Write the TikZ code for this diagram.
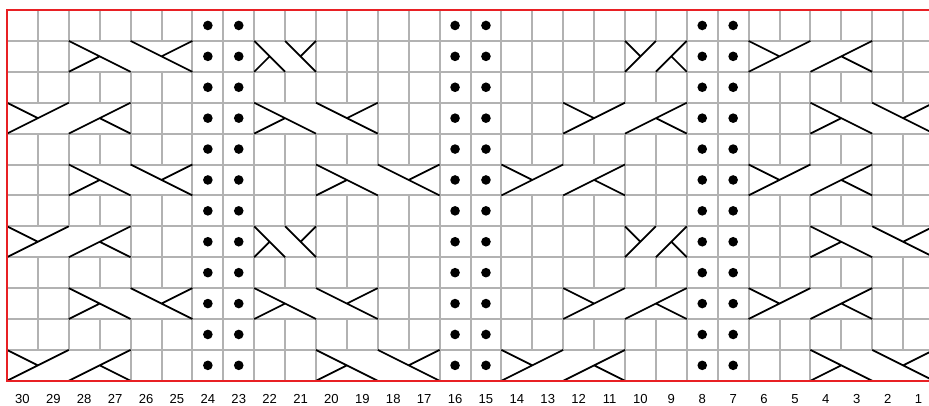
\documentclass[tikz,border=0pt]{standalone}
\usepackage{fontspec}
\setmainfont{Liberation Sans}
\usepackage{xcolor}
\usepackage{tikz}
\usetikzlibrary{positioning}
\definecolor{grisGrille}{RGB}{178,178,178}
\definecolor{rougeBord}{RGB}{232,32,36}

% one cable symbol: #1 = leftmost column number, #2 = cells per half, #3 = row from top
\newcommand{\cabSetup}[3]{%
  \pgfmathsetmacro{\cxl}{7+(30-#1)*30.9}%
  \pgfmathsetmacro{\cxm}{\cxl+#2*30.9}%
  \pgfmathsetmacro{\cxr}{\cxm+#2*30.9}%
  \pgfmathsetmacro{\cxa}{(\cxl+\cxm)/2}%
  \pgfmathsetmacro{\cxb}{(\cxm+\cxr)/2}%
  \pgfmathsetmacro{\cyt}{10+(#3-1)*30.9}%
  \pgfmathsetmacro{\cyb}{\cyt+30.9}%
  \pgfmathsetmacro{\cyc}{\cyt+15.45}%
  \fill[white] (\cxl+1,\cyt+1) rectangle (\cxr-1,\cyb-1);}
\newcommand{\cabA}[3]{\cabSetup{#1}{#2}{#3}%
  \draw[strand] (\cxl,\cyt) -- (\cxm,\cyb) (\cxl,\cyb) -- (\cxa,\cyc)
                (\cxm,\cyt) -- (\cxr,\cyb) (\cxb,\cyc) -- (\cxr,\cyt);}
\newcommand{\cabB}[3]{\cabSetup{#1}{#2}{#3}%
  \draw[strand] (\cxl,\cyb) -- (\cxm,\cyt) (\cxl,\cyt) -- (\cxa,\cyc)
                (\cxm,\cyb) -- (\cxr,\cyt) (\cxb,\cyc) -- (\cxr,\cyb);}

\begin{document}
\begin{tikzpicture}[x=0.75pt, y=-0.75pt,
    gridline/.style={draw=grisGrille, line width=1.5pt},
    strand/.style={draw=black, line width=1.3pt},
    purl/.style={fill=black},
    border/.style={draw=rougeBord, line width=1.6pt},
    collab/.style={font=\fontsize{9.8}{11}\selectfont, inner sep=0pt}
    ]
    \useasboundingbox (0,0) rectangle (929,405);
    \clip (0,0) rectangle (929,405);

    % grid
    \foreach \i in {0,...,30}
        \draw[gridline] ({7+\i*30.9},10) -- ({7+\i*30.9},380.8);
    \foreach \j in {0,...,12}
        \draw[gridline] (7,{10+\j*30.9}) -- (934,{10+\j*30.9});

    % cables, rows from the top
    \cabA{28}{2}{2}  \cabA{22}{1}{2}  \cabB{10}{1}{2}  \cabB{6}{2}{2}
    \cabB{30}{2}{4}  \cabA{22}{2}{4}  \cabB{12}{2}{4}  \cabA{4}{2}{4}
    \cabA{28}{2}{6}  \cabA{20}{2}{6}  \cabB{14}{2}{6}  \cabB{6}{2}{6}
    \cabB{30}{2}{8}  \cabA{22}{1}{8}  \cabB{10}{1}{8}  \cabA{4}{2}{8}
    \cabA{28}{2}{10} \cabA{22}{2}{10} \cabB{12}{2}{10} \cabB{6}{2}{10}
    \cabB{30}{2}{12} \cabA{20}{2}{12} \cabB{14}{2}{12} \cabA{4}{2}{12}

    % purl columns
    \foreach \c in {24,23,16,15,8,7}
        \foreach \r in {1,...,12}
            \fill[purl] ({7+(30-\c)*30.9+15.45},{10+(\r-1)*30.9+15.45}) circle[radius=3.6pt];

    \draw[border] (7,10) rectangle (934,380.8);

    % column numbers
    \foreach \c in {1,...,30}
        \node[collab] (col\c) at ({7+(30-\c)*30.9+15.45},399) {\c};
\end{tikzpicture}
\end{document}
